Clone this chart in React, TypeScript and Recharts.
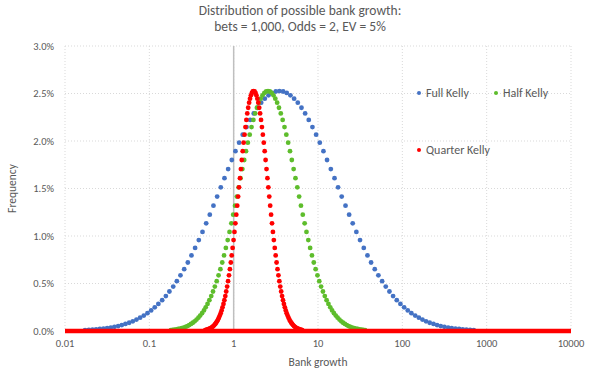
import {
  CartesianGrid,
  Legend,
  ReferenceLine,
  Scatter,
  ScatterChart,
  XAxis,
  YAxis,
} from "recharts";

// frequency (%) of each outcome, from 53 fewer wins than the mode to 53 more
const frequency = [
  0.009, 0.011, 0.014, 0.017, 0.021, 0.025, 0.03, 0.036, 0.044, 0.052,
  0.062, 0.074, 0.087, 0.102, 0.12, 0.14, 0.162, 0.188, 0.217, 0.249,
  0.285, 0.324, 0.368, 0.416, 0.468, 0.525, 0.586, 0.651, 0.721, 0.796,
  0.875, 0.957, 1.043, 1.133, 1.225, 1.319, 1.415, 1.512, 1.609, 1.705,
  1.8, 1.893, 1.982, 2.067, 2.147, 2.222, 2.29, 2.35, 2.403, 2.446,
  2.481, 2.506, 2.521, 2.526, 2.521, 2.506, 2.481,
  2.446, 2.403, 2.35, 2.29, 2.222, 2.147, 2.067, 1.982, 1.893, 1.8,
  1.705, 1.609, 1.512, 1.415, 1.319, 1.225, 1.133, 1.043, 0.957, 0.875,
  0.796, 0.721, 0.651, 0.586, 0.525, 0.468, 0.416, 0.368, 0.324, 0.285,
  0.249, 0.217, 0.188, 0.162, 0.14, 0.12, 0.102, 0.087, 0.074, 0.062,
  0.052, 0.044, 0.036, 0.03, 0.025, 0.021, 0.017, 0.014, 0.011, 0.009,
];

// bank growth for the same outcomes, per staking plan
const fullKellyGrowth = [
  0.0173, 0.0192, 0.0212, 0.0234, 0.0259, 0.0286, 0.0316, 0.035, 0.0386, 0.0427,
  0.0472, 0.0521, 0.0577, 0.0637, 0.0704, 0.0778, 0.086, 0.095, 0.105, 0.116,
  0.128, 0.142, 0.157, 0.173, 0.192, 0.212, 0.234, 0.259, 0.286, 0.316,
  0.349, 0.386, 0.427, 0.472, 0.521, 0.576, 0.637, 0.704, 0.778, 0.86,
  0.95, 1.05, 1.16, 1.28, 1.42, 1.57, 1.73, 1.92, 2.12, 2.34,
  2.59, 2.86, 3.16, 3.49, 3.86, 4.26, 4.71,
  5.21, 5.76, 6.37, 7.04, 7.77, 8.59, 9.5, 10.5, 11.6, 12.8,
  14.2, 15.7, 17.3, 19.1, 21.2, 23.4, 25.8, 28.5, 31.5, 34.9,
  38.6, 42.6, 47.1, 52.0, 57.6, 63.6, 70.3, 77.7, 85.9, 94.9,
  105, 116, 128, 142, 157, 173, 191, 211, 234, 258,
  285, 315, 349, 385, 426, 471, 520, 575, 636, 703,
];

const halfKellyGrowth = [
  0.18, 0.189, 0.199, 0.21, 0.22, 0.232, 0.243, 0.256, 0.269, 0.283,
  0.297, 0.312, 0.328, 0.345, 0.363, 0.382, 0.401, 0.422, 0.444, 0.466,
  0.49, 0.515, 0.542, 0.569, 0.598, 0.629, 0.662, 0.696, 0.732, 0.769,
  0.808, 0.85, 0.893, 0.939, 0.987, 1.038, 1.091, 1.146, 1.206, 1.268,
  1.333, 1.401, 1.473, 1.549, 1.628, 1.711, 1.799, 1.891, 1.987, 2.091,
  2.198, 2.311, 2.429, 2.554, 2.685, 2.822, 2.966,
  3.118, 3.278, 3.445, 3.621, 3.811, 4.006, 4.211, 4.427, 4.654, 4.892,
  5.142, 5.405, 5.682, 5.973, 6.278, 6.599, 6.944, 7.3, 7.674, 8.067,
  8.48, 8.914, 9.371, 9.85, 10.35, 10.88, 11.44, 12.04, 12.65, 13.3,
  13.98, 14.7, 15.45, 16.24, 17.08, 17.95, 18.87, 19.83, 20.85, 21.94,
  23.06, 24.24, 25.48, 26.79, 28.16, 29.6, 31.12, 32.71, 34.38, 36.14,
];

const quarterKellyGrowth = [
  0.459, 0.471, 0.483, 0.495, 0.508, 0.52, 0.534, 0.547, 0.561, 0.575,
  0.59, 0.605, 0.62, 0.636, 0.652, 0.668, 0.685, 0.702, 0.72, 0.738,
  0.757, 0.776, 0.796, 0.816, 0.837, 0.858, 0.88, 0.902, 0.925, 0.948,
  0.972, 0.997, 1.022, 1.048, 1.074, 1.102, 1.13, 1.158, 1.188, 1.218,
  1.248, 1.28, 1.312, 1.346, 1.38, 1.415, 1.45, 1.487, 1.525, 1.563,
  1.603, 1.644, 1.685, 1.727, 1.771, 1.816, 1.862,
  1.91, 1.958, 2.008, 2.058, 2.11, 2.164, 2.219, 2.275, 2.332, 2.391,
  2.452, 2.514, 2.578, 2.643, 2.71, 2.778, 2.849, 2.921, 2.995, 3.071,
  3.148, 3.228, 3.31, 3.394, 3.48, 3.568, 3.658, 3.751, 3.845, 3.943,
  4.043, 4.145, 4.25, 4.358, 4.468, 4.581, 4.697, 4.816, 4.938, 5.063,
  5.191, 5.323, 5.457, 5.595, 5.737, 5.882, 6.031, 6.184, 6.34, 6.501,
];

// quarter Kelly outcomes outside the visible peak all sit at 0 across the axis
const quarterKellyZeroSpan = [0.01, 10000];

const xTicks = [0.01, 0.1, 1, 10, 100, 1000, 10000];
const yTicks = [0, 0.5, 1, 1.5, 2, 2.5, 3];

const BLUE = "#4472C4";
const GREEN = "#5EBD2C";
const RED = "#FF0000";
const TEXT = "#595959";
const FONT = "Carlito, Calibri, Lato, sans-serif";

const toPoints = (growth: number[]) =>
  growth.map((x, i) => ({ x, y: frequency[i] }));

const dot = (color: string) => (props: any) =>
  <circle cx={props.cx} cy={props.cy} r={2.4} fill={color} />;

const legendItems = [
  { name: "Full Kelly", color: BLUE, left: 417, top: 85 },
  { name: "Half Kelly", color: GREEN, left: 494, top: 85 },
  { name: "Quarter Kelly", color: RED, left: 417, top: 142 },
];

function ChartLegend() {
  return (
    <div style={{ position: "relative", width: 600, height: 374 }}>
      {legendItems.map((item) => (
        <div
          key={item.name}
          style={{
            position: "absolute",
            left: item.left,
            top: item.top,
            display: "flex",
            alignItems: "center",
            fontFamily: FONT,
            fontSize: 12,
            color: TEXT,
            lineHeight: "16px",
            whiteSpace: "nowrap",
          }}
        >
          <span
            style={{
              width: 4,
              height: 4,
              borderRadius: 2,
              background: item.color,
              marginRight: 5,
            }}
          />
          {item.name}
        </div>
      ))}
    </div>
  );
}

export default function App() {
  return (
    <div
      style={{
        position: "absolute",
        left: 0,
        top: 0,
        width: 600,
        height: 374,
        background: "#fff",
      }}
    >
      <div
        style={{
          position: "absolute",
          top: 3,
          width: 600,
          textAlign: "center",
          fontFamily: FONT,
          fontSize: 13.5,
          lineHeight: "15.6px",
          color: TEXT,
        }}
      >
        Distribution of possible bank growth:
        <br />
        bets = 1,000, Odds = 2, EV = 5%
      </div>
      <ScatterChart
        width={600}
        height={374}
        margin={{ top: 46, right: 29, bottom: 3, left: 8 }}
        style={{ position: "absolute", left: 0, top: 0 }}
      >
        <CartesianGrid stroke="#d9d9d9" strokeDasharray="1 2" />
        <XAxis
          type="number"
          dataKey="x"
          scale="log"
          domain={[0.01, 10000]}
          ticks={xTicks}
          allowDataOverflow
          tickFormatter={(v) => String(v)}
          tick={{ fill: TEXT, fontSize: 10.5, fontFamily: FONT }}
          tickLine={false}
          tickSize={0}
          tickMargin={9}
          axisLine={{ stroke: "#bfbfbf" }}
          height={40}
          label={{
            value: "Bank growth",
            position: "insideBottom",
            offset: 5,
            fill: TEXT,
            fontSize: 11.5,
            fontFamily: FONT,
          }}
        />
        <YAxis
          type="number"
          dataKey="y"
          domain={[0, 3]}
          ticks={yTicks}
          tickFormatter={(v) => `${v.toFixed(1)}%`}
          tick={{ fill: TEXT, fontSize: 10.5, fontFamily: FONT }}
          tickLine={false}
          tickSize={0}
          tickMargin={11}
          axisLine={false}
          width={57}
          label={{
            value: "Frequency",
            angle: -90,
            position: "insideLeft",
            offset: 4,
            fill: TEXT,
            fontSize: 11.5,
            fontFamily: FONT,
            style: { textAnchor: "middle" },
          }}
        />
        <ReferenceLine x={1} stroke="#bfbfbf" strokeWidth={1.5} />
        <Legend
          layout="vertical"
          align="center"
          verticalAlign="middle"
          content={() => <ChartLegend />}
          wrapperStyle={{ left: 0, top: 0, width: 600, height: 374 }}
        />
        <Scatter
          name="Full Kelly"
          data={toPoints(fullKellyGrowth)}
          fill={BLUE}
          shape={dot(BLUE)}
          isAnimationActive={false}
        />
        <Scatter
          name="Half Kelly"
          data={toPoints(halfKellyGrowth)}
          fill={GREEN}
          shape={dot(GREEN)}
          isAnimationActive={false}
        />
        <Scatter
          name="Quarter Kelly zeros"
          data={quarterKellyZeroSpan.map((x) => ({ x, y: 0 }))}
          line={{ stroke: RED, strokeWidth: 4.6, strokeLinecap: "round" }}
          shape={() => <g />}
          isAnimationActive={false}
        />
        <Scatter
          name="Quarter Kelly"
          data={toPoints(quarterKellyGrowth)}
          fill={RED}
          shape={dot(RED)}
          isAnimationActive={false}
        />
      </ScatterChart>
    </div>
  );
}
